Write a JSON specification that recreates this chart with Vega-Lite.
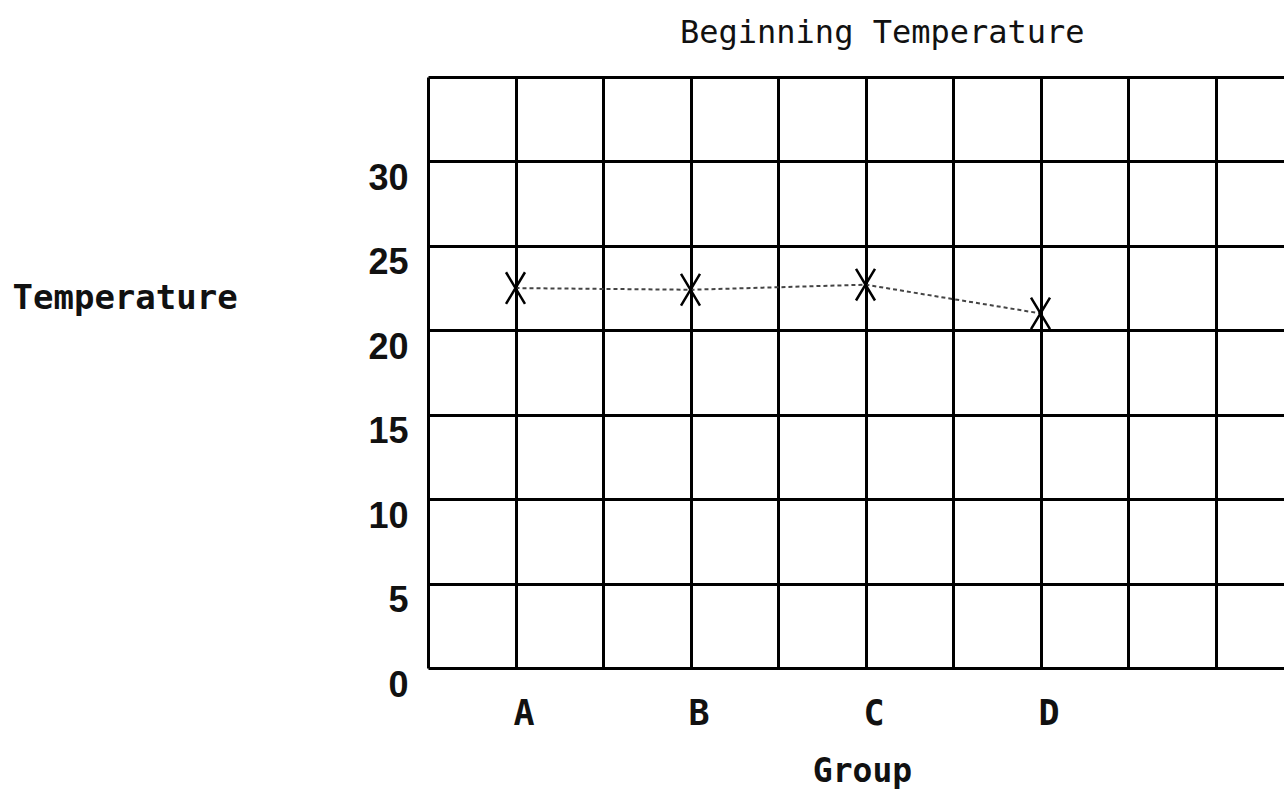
{
  "$schema": "https://vega.github.io/schema/vega-lite/v6.json",
  "autosize": {"type": "none"},
  "padding": {"left": 428, "top": 77, "right": 0, "bottom": 122},
  "width": 856,
  "height": 591,
  "background": "white",
  "title": {
    "text": "Beginning Temperature",
    "anchor": "start",
    "frame": "group",
    "dx": 252,
    "offset": 2,
    "baseline": "alphabetic",
    "font": "DejaVu Sans Mono",
    "fontSize": 32,
    "fontWeight": "normal",
    "color": "#111"
  },
  "config": {
    "view": {"stroke": null}
  },
  "data": {
    "values": [
      {"group": "A", "temperature": 22.5},
      {"group": "B", "temperature": 22.4},
      {"group": "C", "temperature": 22.7},
      {"group": "D", "temperature": 21.0}
    ]
  },
  "encoding": {
    "x": {
      "field": "group",
      "type": "nominal",
      "scale": {
        "type": "point",
        "domain": ["g0", "A", "g2", "B", "g4", "C", "g6", "D", "g8", "g9", "g10"],
        "range": [0, 875],
        "padding": 0
      },
      "axis": {
        "title": "Group",
        "titleFont": "DejaVu Sans Mono",
        "titleFontSize": 33,
        "titleFontWeight": "bold",
        "titleColor": "#111",
        "titleX": 434,
        "titleY": 113,
        "titleAlign": "center",
        "titleBaseline": "alphabetic",
        "labelExpr": "indexof(['A','B','C','D'], datum.value) >= 0 ? datum.value : ''",
        "labelAngle": 0,
        "labelFont": "DejaVu Sans Mono",
        "labelFontSize": 35,
        "labelFontWeight": "bold",
        "labelColor": "#111",
        "labelBaseline": "alphabetic",
        "labelPadding": 56,
        "labelOffset": 8,
        "ticks": false,
        "domain": false,
        "grid": true,
        "gridColor": "black",
        "gridWidth": 3,
        "gridOpacity": 1
      }
    },
    "y": {
      "field": "temperature",
      "type": "quantitative",
      "scale": {"domain": [0, 35], "nice": false},
      "axis": {
        "title": "Temperature",
        "titleAngle": 0,
        "titleFont": "DejaVu Sans Mono",
        "titleFontSize": 34,
        "titleFontWeight": "bold",
        "titleColor": "#111",
        "titleX": -416,
        "titleY": 231,
        "titleAlign": "left",
        "titleBaseline": "alphabetic",
        "values": [0, 5, 10, 15, 20, 25, 30, 35],
        "labelExpr": "datum.value == 35 ? '' : datum.label",
        "labelFont": "Liberation Sans",
        "labelFontSize": 36,
        "labelFontWeight": "bold",
        "labelColor": "#111",
        "labelBaseline": "alphabetic",
        "labelOffset": 28,
        "labelPadding": 20,
        "ticks": false,
        "domain": false,
        "grid": true,
        "gridColor": "black",
        "gridWidth": 3,
        "gridOpacity": 1
      }
    }
  },
  "layer": [
    {
      "mark": {"type": "line", "color": "#444", "strokeWidth": 2, "strokeDash": [4, 3]}
    },
    {
      "mark": {
        "type": "point",
        "shape": "M-0.6,-1L0.6,1M0.6,-1L-0.6,1",
        "size": 1000,
        "filled": false,
        "color": "black",
        "strokeWidth": 2.5,
        "opacity": 1
      }
    }
  ]
}
